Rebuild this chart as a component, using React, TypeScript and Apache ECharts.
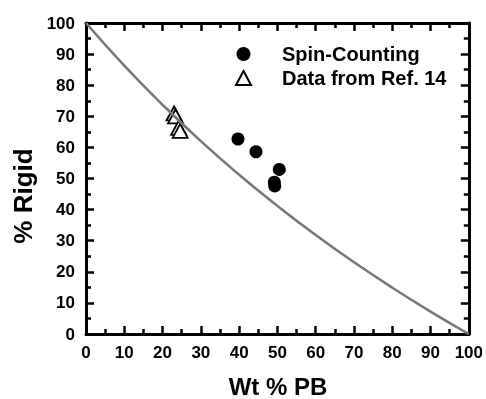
import React, { useEffect, useRef } from "react";
import * as echarts from "echarts";

const xTicks = [0, 10, 20, 30, 40, 50, 60, 70, 80, 90, 100];
const spinCounting: [number, number][] = [
  [39.7, 62.7],
  [44.4, 58.6],
  [50.5, 52.9],
  [49.2, 48.8],
  [49.3, 47.6],
];
const refData: [number, number][] = [
  [23.0, 70.9],
  [23.4, 70.0],
  [24.2, 66.3],
  [24.6, 65.3],
];
const curveX = [0, 10, 20, 30, 40, 50, 60, 70, 80, 90, 100];
const curveY = [100, 86.3, 73.7, 62.0, 51.2, 41.2, 31.8, 23.1, 14.9, 7.2, 0];

const FONT = "Liberation Sans, Arial, Helvetica, sans-serif";

function ax(position: string, margin: number) {
  const o: any = {
    type: "value",
    position,
    min: xTicks[0],
    max: xTicks[xTicks.length - 1],
    interval: 10,
    axisLine: { show: true, onZero: false, lineStyle: { color: "#000", width: 3 } },
    axisTick: { show: true, inside: true, length: 8, lineStyle: { color: "#000", width: 2.5 } },
    minorTick: { show: true, splitNumber: 2, length: 5, lineStyle: { color: "#000", width: 2.5 } },
    splitLine: { show: false },
    axisLabel: {
      show: position === "bottom" || position === "left",
      color: "#000",
      fontWeight: "bold",
      fontSize: 17,
      fontFamily: FONT,
      margin,
    },
  };
  return o;
}

export default function App() {
  const ref = useRef<HTMLDivElement>(null);
  useEffect(() => {
    if (!ref.current) return;
    const chart = echarts.init(ref.current, undefined, { renderer: "svg" });
    chart.setOption({
      animation: false,
      grid: { left: 86, right: 16, top: 23, bottom: 65 },
      xAxis: [ax("bottom", 10), ax("top", 8)],
      yAxis: [ax("left", 11), ax("right", 8)],
      legend: {
        orient: "vertical",
        left: 230,
        top: 39,
        itemWidth: 15,
        itemHeight: 14,
        itemGap: 4,
        data: ["Spin-Counting", "Data from Ref. 14"],
        textStyle: {
          color: "#000",
          fontWeight: "bold",
          fontSize: 20,
          fontFamily: FONT,
          lineHeight: 20,
          padding: [0, 0, 0, 26],
        },
      },
      graphic: [
        {
          type: "text",
          x: 278,
          y: 386,
          style: {
            text: "Wt % PB",
            fill: "#000",
            font: "bold 24px " + FONT,
            align: "center",
            verticalAlign: "middle",
          },
        },
        {
          type: "text",
          x: 23,
          y: 196,
          rotation: Math.PI / 2,
          style: {
            text: "% Rigid",
            fill: "#000",
            font: "bold 26px " + FONT,
            align: "center",
            verticalAlign: "middle",
          },
        },
      ],
      series: [
        {
          name: "curve",
          type: "line",
          smooth: true,
          showSymbol: false,
          data: curveX.map((x, i) => [x, curveY[i]]),
          lineStyle: { color: "#777", width: 2.5 },
        },
        {
          name: "Spin-Counting",
          type: "scatter",
          symbol: "circle",
          symbolSize: 13,
          data: spinCounting,
          itemStyle: { color: "#000", opacity: 1 },
        },
        {
          name: "Data from Ref. 14",
          type: "scatter",
          symbol: "triangle",
          symbolSize: [15, 14],
          data: refData,
          itemStyle: { color: "#fff", borderColor: "#000", borderWidth: 1.8, opacity: 1 },
        },
      ],
    });
    return () => chart.dispose();
  }, []);
  return <div ref={ref} style={{ position: "fixed", left: 0, top: 0, width: 486, height: 399 }} />;
}
